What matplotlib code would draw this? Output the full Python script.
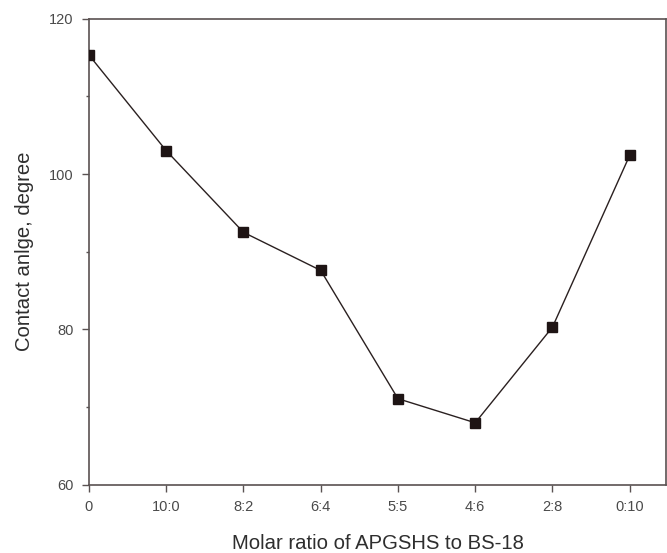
import matplotlib
matplotlib.use("Agg")
import matplotlib.pyplot as plt
from matplotlib.ticker import MultipleLocator

plt.rcParams['font.family'] = ['Liberation Sans', 'DejaVu Sans']

ratios = ["0", "10:0", "8:2", "6:4", "5:5", "4:6", "2:8", "0:10"]
contact_angle = [115.3, 103.0, 92.5, 87.6, 71.1, 68.0, 80.3, 102.4]

fig = plt.figure(figsize=(6.67, 5.53), dpi=100)
ax = fig.add_axes([0.1334, 0.123, 0.8651, 0.8435])

x = list(range(len(ratios)))
ax.plot(x, contact_angle, color='#2a2020', linewidth=1.0,
        marker='s', markersize=7.2, markerfacecolor='#1e1414',
        markeredgecolor='#1e1414', zorder=3)

ax.set_xlim(0, 7.47)
ax.set_ylim(60, 120)
ax.set_xticks(x)
ax.set_xticklabels(ratios)
ax.yaxis.set_major_locator(MultipleLocator(20))
ax.yaxis.set_minor_locator(MultipleLocator(10))

spine_color = '#5a5252'
for s in ax.spines.values():
    s.set_color(spine_color)
    s.set_linewidth(1.2)

ax.tick_params(axis='both', which='major', direction='out', length=5,
               width=1.0, color=spine_color, labelsize=10.5,
               labelcolor='#4a4a4a', pad=6)
ax.tick_params(axis='y', which='minor', direction='out', length=2.5,
               width=1.0, color=spine_color)

ax.set_xlabel('Molar ratio of APGSHS to BS-18', fontsize=14.6,
              color='#2e2e2e', labelpad=14)
ax.set_ylabel('Contact anlge, degree', fontsize=14.6,
              color='#2e2e2e', labelpad=11)

fig.savefig('out.png', dpi=100)
